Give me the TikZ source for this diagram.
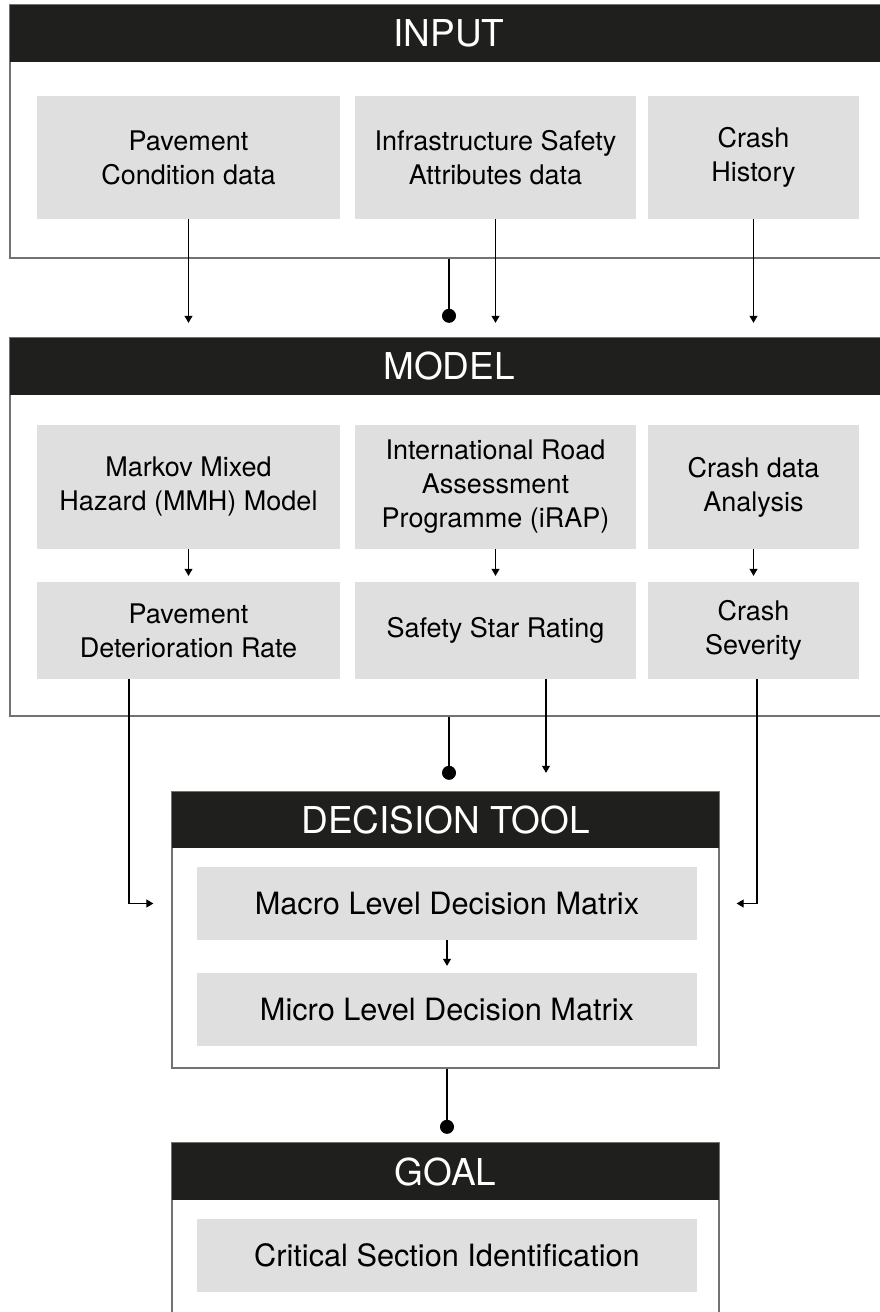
\documentclass[tikz,border=0pt]{standalone}
\usepackage{fontspec}
\setmainfont{TeX Gyre Heros}
\usetikzlibrary{arrows.meta}

\definecolor{hdrblack}{HTML}{1F1F1D}
\definecolor{cellgray}{HTML}{DFDFDF}
\definecolor{framegray}{HTML}{727272}

\tikzset{
  panel/.style={draw=framegray, line width=1.3pt, fill=white, inner sep=0pt},
  hdr/.style={fill=hdrblack, text=white, inner sep=0pt,
              font=\fontsize{37}{44}\selectfont},
  cell/.style={fill=cellgray, inner sep=0pt, align=center,
               font=\fontsize{27}{34}\selectfont},
  widecell/.style={cell, font=\fontsize{30.7}{37}\selectfont},
  arr/.style={draw=black, line width=1.1pt, -{Triangle[width=8pt,length=7pt]}},
  dotlink/.style={draw=black, line width=1.1pt, -{Circle[length=14pt]}},
}

\begin{document}
\begin{tikzpicture}[x=1pt, y=-1pt]
\useasboundingbox (0,0) rectangle (880,1312);

% ---------- INPUT ----------
\node[panel, minimum width=878pt, minimum height=253pt] (inp) at (449,131.5) {};
\node[hdr, minimum width=878pt, minimum height=57pt] (ihdr) at (449,33.5) {INPUT};
\node[cell, minimum width=303pt, minimum height=123pt] (c1) at (188.5,157.5) {Pavement\\Condition data};
\node[cell, minimum width=281pt, minimum height=123pt] (c2) at (495.5,157.5) {Infrastructure Safety\\Attributes data};
\node[cell, minimum width=211pt, minimum height=123pt] (c3) at (753.5,157.5) {Crash\\History};

% ---------- MODEL ----------
\node[panel, minimum width=878pt, minimum height=378pt] (mod) at (449,527) {};
\node[hdr, minimum width=878pt, minimum height=57pt] (mhdr) at (449,366.5) {MODEL};
\node[cell, minimum width=303pt, minimum height=124pt] (m1) at (188.5,487) {Markov Mixed\\Hazard (MMH) Model};
\node[cell, minimum width=281pt, minimum height=124pt] (m2) at (495.5,487) {International Road\\Assessment\\Programme (iRAP)};
\node[cell, minimum width=211pt, minimum height=124pt] (m3) at (753.5,487) {Crash data\\Analysis};
\node[cell, minimum width=303pt, minimum height=97pt] (m4) at (188.5,630.5) {Pavement\\Deterioration Rate};
\node[cell, minimum width=281pt, minimum height=97pt] (m5) at (495.5,630.5) {Safety Star Rating};
\node[cell, minimum width=211pt, minimum height=97pt] (m6) at (753.5,630.5) {Crash\\Severity};

% ---------- DECISION TOOL ----------
\node[panel, minimum width=547pt, minimum height=276pt] (dec) at (445.5,930) {};
\node[hdr, minimum width=547pt, minimum height=56pt] (dhdr) at (445.5,820) {DECISION TOOL};
\node[widecell, minimum width=500pt, minimum height=73pt] (macro) at (447,903.5) {Macro Level Decision Matrix};
\node[widecell, minimum width=500pt, minimum height=73pt] (micro) at (447,1009.5) {Micro Level Decision Matrix};

% ---------- GOAL ----------
\node[panel, minimum width=547pt, minimum height=190pt] (goal) at (445.5,1238) {};
\node[hdr, minimum width=547pt, minimum height=57pt] (ghdr) at (445.5,1171.5) {GOAL};
\node[widecell, minimum width=500pt, minimum height=73pt] (crit) at (447,1255.5) {Critical Section Identification};

% ---------- connectors: input -> model ----------
\draw[arr, shorten >=15pt] (c1.south) -- (c1.south |- mhdr.north);
\draw[arr, shorten >=15pt] (c2.south) -- (c2.south |- mhdr.north);
\draw[arr, shorten >=15pt] (c3.south) -- (c3.south |- mhdr.north);
\draw[dotlink, shorten >=15pt] (inp.south) -- (inp.south |- mhdr.north);

% ---------- connectors inside model ----------
\draw[arr, shorten >=6pt] (m1.south) -- (m4.north);
\draw[arr, shorten >=6pt] (m2.south) -- (m5.north);
\draw[arr, shorten >=6pt] (m3.south) -- (m6.north);

% ---------- connectors: model -> decision tool ----------
\draw[dotlink, shorten >=12pt] (mod.south) -- (mod.south |- dhdr.north);
\draw[arr, shorten >=19pt] ([xshift=50.5pt]m5.south) -- ([xshift=50.5pt]m5.south |- dhdr.north);
\draw[arr, shorten >=18pt] ([xshift=-59.5pt]m4.south) |- (macro.west -| dec.west);
\draw[arr, shorten >=17pt] ([xshift=3.5pt]m6.south) |- (macro.east -| dec.east);

% ---------- inside decision tool ----------
\draw[arr, shorten >=7pt] (macro.south) -- (micro.north);

% ---------- decision tool -> goal ----------
\draw[dotlink, shorten >=9pt] ([xshift=1.5pt]dec.south) -- ([xshift=1.5pt]dec.south |- ghdr.north);
\end{tikzpicture}
\end{document}
